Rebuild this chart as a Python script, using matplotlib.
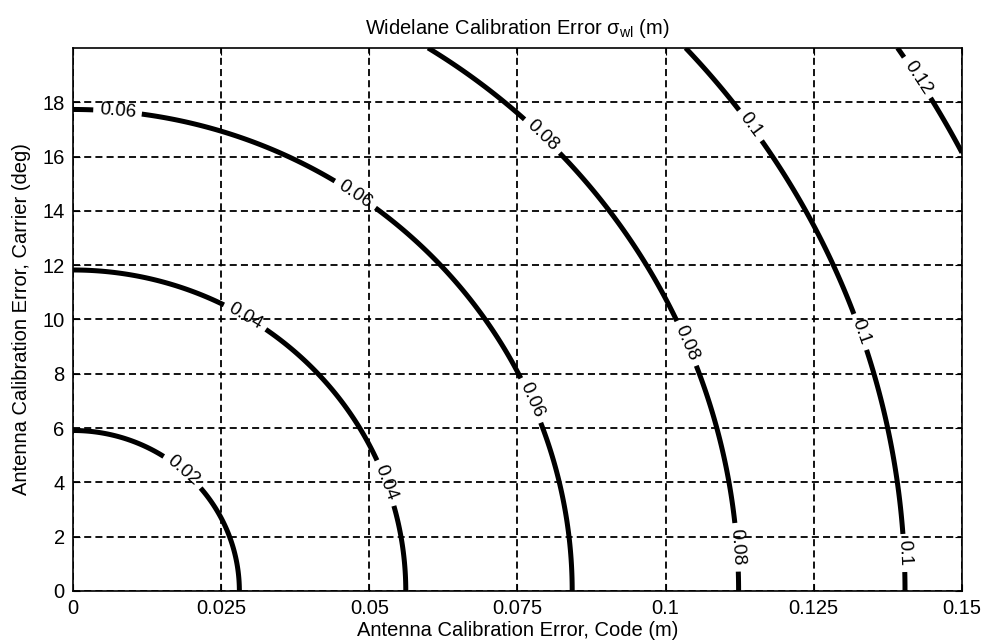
import numpy as np
import matplotlib
matplotlib.use("Agg")
import matplotlib.pyplot as plt

plt.rcParams['font.family'] = ['Liberation Sans', 'DejaVu Sans']
plt.rcParams['mathtext.fontset'] = 'custom'
plt.rcParams['mathtext.rm'] = 'Liberation Sans'
plt.rcParams['mathtext.it'] = 'Liberation Sans:italic'

# Contour levels (m) and where each crosses the axes
levels = [0.02, 0.04, 0.06, 0.08, 0.10, 0.12]
code_intercepts = [0.0282, 0.0562, 0.0840, 0.1122, 0.1402]     # at carrier = 0 deg
carrier_intercepts = [5.93, 11.81, 17.70]                      # at code = 0 m

x_ticks = [0, 0.025, 0.05, 0.075, 0.1, 0.125, 0.15]
x_ticklabels = ['0', '0.025', '0.05', '0.075', '0.1', '0.125', '0.15']
y_ticks = [0, 2, 4, 6, 8, 10, 12, 14, 16, 18]

# label positions (code m, carrier deg)
label_pos = [(0.0197, 4.7), (0.0543, 4.1), (0.0277, 9.6),
             (0.0075, 17.6), (0.0476, 14.6), (0.0771, 7.0),
             (0.0785, 16.6), (0.1044, 9.2), (0.1114, 1.6),
             (0.1134, 17.0), (0.1336, 9.6), (0.1402, 1.4),
             (0.1424, 18.9)]

a = np.mean(np.array(levels[:len(code_intercepts)]) / np.array(code_intercepts))
b = np.mean(np.array(levels[:len(carrier_intercepts)]) / np.array(carrier_intercepts))

xs = np.linspace(0, 0.15, 400)
ys = np.linspace(0, 20, 400)
X, Y = np.meshgrid(xs, ys)
Z = np.sqrt((a * X) ** 2 + (b * Y) ** 2)

fig = plt.figure(figsize=(9.82, 6.44), dpi=100)
ax = fig.add_axes([0.0743, 0.0823, 0.9053, 0.8432])

ax.grid(True, color='black', linestyle=(0, (3.9, 2.3)), linewidth=1.3)
ax.set_axisbelow(True)

cs = ax.contour(X, Y, Z, levels=levels, colors='black', linewidths=3.6)
ax.clabel(cs, fmt=lambda v: ('%g' % v), fontsize=13.5, inline=True,
          inline_spacing=6, manual=label_pos)

ax.set_xlim(0, 0.15)
ax.set_ylim(0, 20)
ax.set_xticks(x_ticks)
ax.set_xticklabels(x_ticklabels)
ax.set_yticks(y_ticks)
ax.tick_params(direction='in', length=5, labelsize=14.5, top=True, right=True,
               width=0.8, pad=6)
for s in ax.spines.values():
    s.set_linewidth(1.2)

ax.set_xlabel('Antenna Calibration Error, Code (m)', fontsize=14.5, labelpad=2)
ax.set_ylabel('Antenna Calibration Error, Carrier (deg)', fontsize=14.5, labelpad=8)
ax.set_title('Widelane Calibration Error σ$_{\\mathregular{wl}}$ (m)', fontsize=14.5, pad=10)

fig.savefig('out.png', dpi=100)
